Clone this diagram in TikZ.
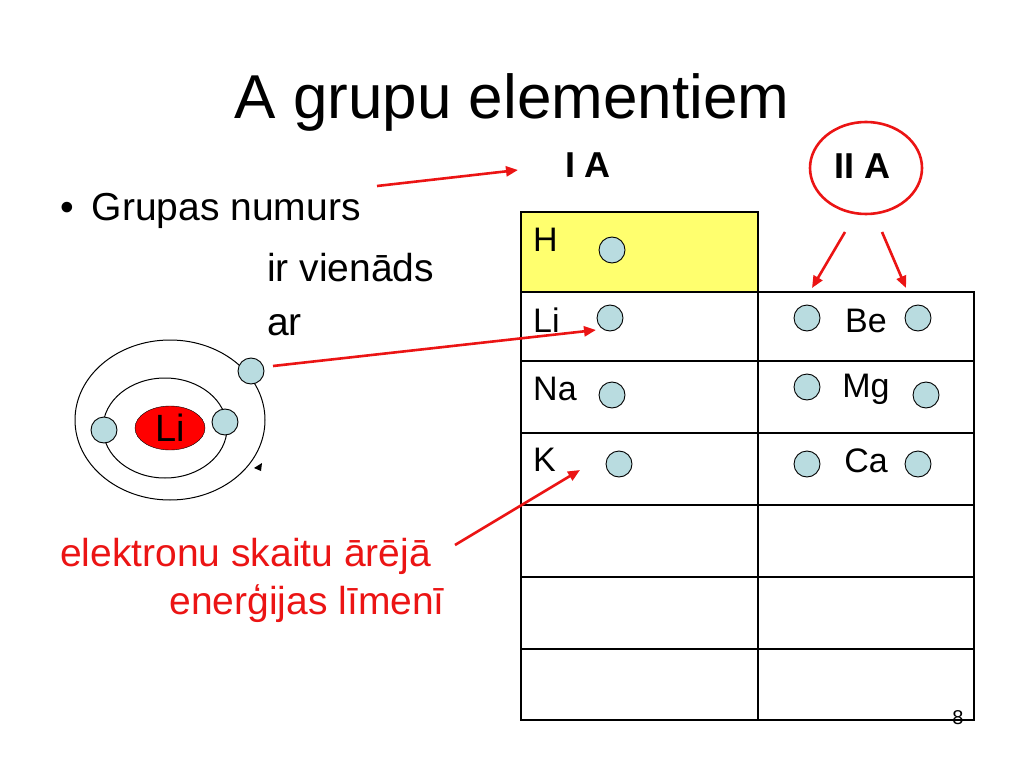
\documentclass[tikz,border=0pt]{standalone}
\usepackage{fontspec}
\setmainfont{Liberation Sans}
\usetikzlibrary{arrows.meta,shapes.geometric}
\definecolor{eblue}{RGB}{185,220,224}
\definecolor{rred}{RGB}{235,20,20}
\definecolor{hyel}{RGB}{255,255,110}
\begin{document}
\begin{tikzpicture}[x=1pt,y=-1pt,
  elec/.style={circle,draw=black,fill=eblue,minimum size=26pt,inner sep=0pt,line width=0.9pt},
  cell/.style={draw=black,line width=1.4pt},
  body/.style={font=\fontsize{39}{44}\selectfont,inner sep=0pt},
  sym/.style={font=\fontsize{34}{38}\selectfont,inner sep=0pt},
  redarr/.style={draw=rred,line width=2.6pt,-{Triangle[length=12pt,width=10pt]}}]
\useasboundingbox (0,0) rectangle (1024,767);
\node[font=\fontsize{62}{68}\selectfont,inner sep=0pt] (title) at (512,102) {A grupu elementiem};
% table
\fill[hyel] (521,212) rectangle (758,292);
\draw[cell] (521,212) rectangle (758,720);
\draw[cell] (758,292) rectangle (974,720);
\foreach \y in {292,361,433,505,577,649}{\draw[cell] (521,\y) -- (974,\y);}
\node[sym,anchor=west] (tH) at (533,240) {H};
\node[sym,anchor=west] (tLi) at (533,320) {Li};
\node[sym,anchor=west] (tNa) at (533,389) {Na};
\node[sym,anchor=west] (tK) at (533,460) {K};
\node[sym] (tBe) at (866,321) {Be};
\node[sym] (tMg) at (866,389) {Mg};
\node[sym] (tCa) at (866,461) {Ca};
\node[elec] (eH) at (612,250) {};
\node[elec] (eLi) at (610,318) {};
\node[elec] (eNa) at (612,395) {};
\node[elec] (eK) at (619,464) {};
\node[elec] (eBe1) at (807,318) {};
\node[elec] (eBe2) at (918,318) {};
\node[elec] (eMg1) at (807,387) {};
\node[elec] (eMg2) at (926,395) {};
\node[elec] (eCa1) at (807,464) {};
\node[elec] (eCa2) at (918,464) {};
% group headers
\node[font=\bfseries\fontsize{36}{40}\selectfont,inner sep=0pt] (IA) at (588,165) {I A};
\node[font=\bfseries\fontsize{36}{40}\selectfont,inner sep=0pt] (IIA) at (862,166) {II A};
\draw[rred,line width=2.6pt] (866,168) ellipse [x radius=56,y radius=46];
\coordinate (a1s) at (845,232); \coordinate (a1e) at (812,288);
\coordinate (a2s) at (882,232); \coordinate (a2e) at (906,288);
\draw[redarr] (a1s) -- (a1e);
\draw[redarr] (a2s) -- (a2e);
% left texts
\node[body,anchor=west] (b1) at (60,211) {•\hspace{18pt}Grupas numurs};
\node[body,anchor=west] (b2) at (267,268) {ir vienāds};
\node[body,anchor=west] (b3) at (267,325) {ar};
\node[body,anchor=west,text=rred] (r1) at (60,556) {elektronu skaitu ārējā};
\node[body,anchor=east,text=rred] (r2) at (445,604) {enerģijas līmenī};
% atom
\draw[line width=1pt] (170,420) ellipse [x radius=95,y radius=80];
\draw[line width=1pt] (165,428) ellipse [x radius=62,y radius=50];
\node[ellipse,draw=black,fill=red,minimum width=70pt,minimum height=44pt,inner sep=0pt,font=\fontsize{38}{42}\selectfont] (nuc) at (170,428) {Li};
\node[elec] (a1) at (104,430) {};
\node[elec] (a2) at (225,422) {};
\node[elec] (a3) at (251,371) {};
\fill (254,468) -- (262,463) -- (261,471) -- cycle;
% arrows
\coordinate (s1) at (377,186); \coordinate (e1) at (518,170);
\draw[redarr] (s1) -- (e1);
\coordinate (s2) at (273,366); \coordinate (e2) at (596,330);
\draw[redarr] (s2) -- (e2);
\coordinate (s3) at (455,545); \coordinate (e3) at (580,470);
\draw[redarr] (s3) -- (e3);
\node[font=\fontsize{20}{22}\selectfont,inner sep=0pt] (pg) at (958,718) {8};
\end{tikzpicture}
\end{document}
